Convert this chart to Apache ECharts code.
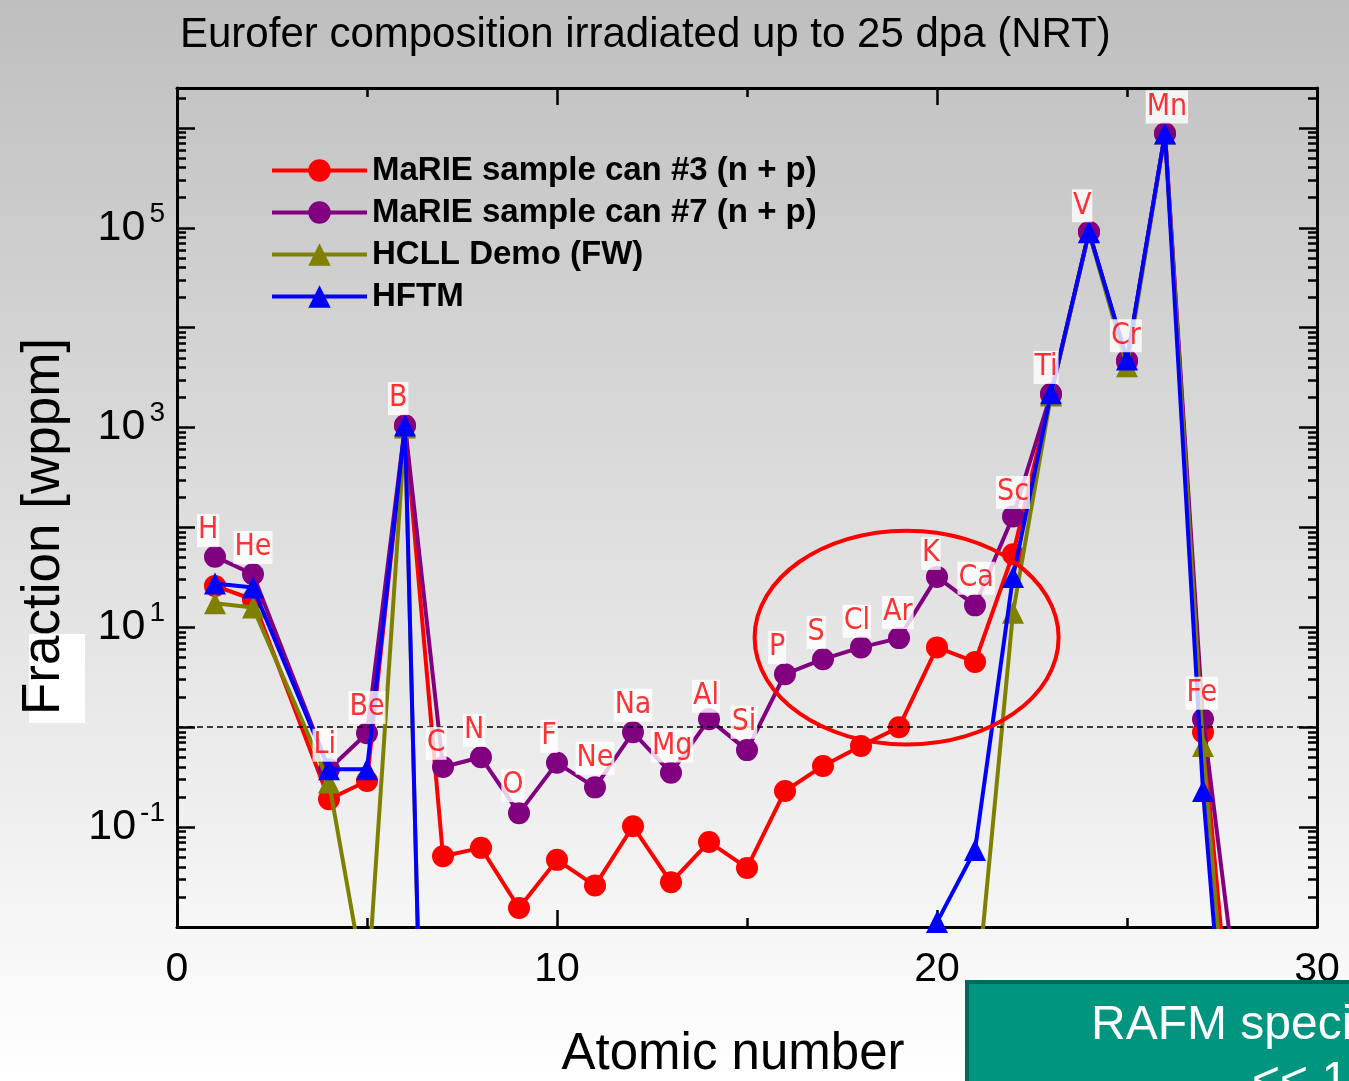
<!DOCTYPE html>
<html>
<head>
<meta charset="utf-8">
<script src="https://cdn.jsdelivr.net/npm/echarts@6/dist/echarts.min.js"></script>
<style>
  html, body { margin: 0; padding: 0; }
  #chart { width: 1349px; height: 1081px; }
</style>
</head>
<body>
<div id="chart"></div>
<script>
// x position of each point (atomic number axis)
const atomicX = [1, 2, 4, 5, 6, 7, 8, 9, 10, 11, 12, 13, 14, 15, 16, 17, 18, 19, 20, 21, 22, 23, 24, 25, 26, 27, 28];

// fractions in wppm
const marie3 = [26, 19, 0.19, 0.29, 1050, 0.051, 0.062, 0.0155, 0.047, 0.026, 0.102, 0.028, 0.071, 0.039,
  0.23, 0.41, 0.65, 1.0, 6.3, 4.5, 54, 2140, 91000, 4600, 880000, 0.89, 6e-5];
const marie7 = [51, 34, 0.38, 0.87, 1050, 0.40, 0.50, 0.138, 0.44, 0.25, 0.89, 0.35, 1.2, 0.59,
  3.4, 4.8, 6.3, 7.8, 32, 16.6, 129, 2180, 91000, 4700, 880000, 1.2, 1e-3];
const hcll = [17.4, 15.8, 0.28, 0.002, 1000, 1e-12, 1e-12, 1e-12, 1e-12, 1e-12, 1e-12, 1e-12, 1e-12, 1e-12,
  1e-12, 1e-12, 1e-12, 1e-12, 1e-12, 0.0014, 14, 2100, 90000, 4100, 880000, 0.65, 1.3e-5];
const hftm = [27.5, 25, 0.38, 0.38, 1050, 1e-12, 1e-12, 1e-12, 1e-12, 1e-12, 1e-12, 1e-12, 1e-12, 1e-12,
  1e-12, 1e-12, 1e-12, 1e-12, 0.0112, 0.059, 32, 2200, 91000, 4800, 880000, 0.23, 5e-6];

const seriesNames = ['MaRIE sample can #3 (n + p)', 'MaRIE sample can #7 (n + p)', 'HCLL Demo (FW)', 'HFTM'];

// element labels: name, x, y (where the label sits)
const elementNames = ['H', 'He', 'Li', 'Be', 'B', 'C', 'N', 'O', 'F', 'Ne', 'Na', 'Mg', 'Al', 'Si',
  'P', 'S', 'Cl', 'Ar', 'K', 'Ca', 'Sc', 'Ti', 'V', 'Cr', 'Mn', 'Fe'];
const elementLabelX = [0.82, 2.0, 3.89, 5.0, 5.82, 6.82, 7.82, 8.84, 9.79, 11.0, 12.0, 13.03, 13.92, 14.92,
  15.79, 16.82, 17.89, 18.97, 19.84, 21.03, 22.0, 22.87, 23.82, 24.97, 26.05, 26.97];
const elementLabelY = [93, 63, 0.66, 1.58, 1950, 0.69, 0.93, 0.26, 0.81, 0.49, 1.66, 0.65, 2.04, 1.12,
  6.3, 8.9, 11.5, 14.1, 55, 31, 224, 4000, 166000, 8300, 1.62e6, 2.19];

const yLabelValues = [0.1, 10, 1000, 100000];
const yMajorTicks = [0.01, 0.1, 1, 10, 100, 1000, 1e4, 1e5, 1e6];
const yMinorTicks = [];
yMajorTicks.forEach(d => { for (let k = 2; k <= 9; k++) { if (k * d < 2.5e6) yMinorTicks.push(+(k * d).toPrecision(3)); } });

const yMin = 0.01, yMax = 2.51e6;

const chart = echarts.init(document.getElementById('chart'));

const pair = arr => atomicX.map((x, i) => [x, arr[i]]);

function yAxisBase(pos, ticks, len, showLine, showLabel) {
  return {
    type: 'log', logBase: 10, min: yMin, max: yMax, position: pos,
    axisLine: { show: showLine, lineStyle: { color: '#000', width: 3 } },
    axisTick: { show: true, inside: true, length: len, customValues: ticks, lineStyle: { color: '#000', width: 2.5 } },
    axisLabel: showLabel ? {
      show: true, customValues: yLabelValues, margin: 12,
      formatter: v => '{b|10}{s|' + Math.round(Math.log10(v)) + '}',
      rich: {
        b: { fontSize: 43, fontFamily: 'Liberation Sans', color: '#000' },
        s: { fontSize: 28, fontFamily: 'Liberation Sans', color: '#000', padding: [0, 0, 28, 4] }
      }
    } : { show: false },
    splitLine: { show: false }
  };
}

const lineColors = ['#ff0000', '#800080', '#808000', '#0000ff'];
const symbols = ['circle', 'circle', 'triangle', 'triangle'];
const dataSets = [marie3, marie7, hcll, hftm];

const series = dataSets.map((d, i) => ({
  name: seriesNames[i],
  type: 'line',
  data: pair(d),
  symbol: symbols[i],
  symbolSize: 22,
  showAllSymbol: true,
  clip: true,
  lineStyle: { color: lineColors[i], width: 4 },
  itemStyle: { color: lineColors[i] },
  z: 2 + i
}));
series[0].markLine = {
  silent: true, symbol: 'none', label: { show: false },
  lineStyle: { type: [6, 4], color: '#000', width: 1.5 },
  data: [{ yAxis: 1 }]
};
series.push({
  type: 'scatter',
  data: elementNames.map((n, i) => ({ value: [elementLabelX[i], elementLabelY[i]], name: n })),
  symbolSize: 1,
  itemStyle: { color: 'rgba(0,0,0,0)' },
  z: 10,
  label: {
    show: true, position: 'inside', formatter: p => p.name,
    color: '#ff0000', fontSize: 30, fontWeight: 500,
    fontFamily: 'Liberation Sans Narrow, DejaVu Sans Condensed, sans-serif',
    backgroundColor: '#fff', padding: [3, 1, 0, 1]
  }
});

const option = {
  animation: false,
  backgroundColor: {
    type: 'linear', x: 0, y: 0, x2: 0, y2: 1,
    colorStops: [{ offset: 0, color: '#bfbfbf' }, { offset: 1, color: '#ffffff' }]
  },
  title: {
    text: 'Eurofer composition irradiated up to 25 dpa (NRT)',
    left: 175, top: 9,
    textStyle: { fontSize: 42, fontWeight: 'normal', color: '#000', fontFamily: 'Liberation Sans Narrow, Liberation Sans, sans-serif' }
  },
  legend: {
    orient: 'vertical', left: 265, top: 149,
    itemWidth: 95, itemHeight: 28, itemGap: 9,
    data: seriesNames,
    lineStyle: { width: 4 },
    textStyle: { fontSize: 33, fontWeight: 'bold', color: '#000', fontFamily: 'Liberation Sans' }
  },
  grid: { left: 177, right: 32, top: 88, bottom: 154, outerBoundsMode: 'none' },
  xAxis: [{
    type: 'value', min: 0, max: 30, interval: 10, position: 'bottom',
    name: 'Atomic number', nameLocation: 'middle', nameGap: 102,
    nameTextStyle: { fontSize: 51, color: '#000', fontFamily: 'Liberation Sans', padding: [0, 28, 0, 0] },
    axisLine: { lineStyle: { color: '#000', width: 3 } },
    axisTick: { inside: true, length: 17, lineStyle: { color: '#000', width: 2.5 } },
    minorTick: { show: true, splitNumber: 2, length: 9, lineStyle: { color: '#000', width: 2.5 } },
    axisLabel: { fontSize: 41, color: '#000', margin: 22, fontFamily: 'Liberation Sans' },
    splitLine: { show: false }
  }, {
    type: 'value', min: 0, max: 30, interval: 10, position: 'top',
    axisLine: { lineStyle: { color: '#000', width: 3 } },
    axisTick: { inside: true, length: 17, lineStyle: { color: '#000', width: 2.5 } },
    minorTick: { show: true, splitNumber: 2, length: 9, lineStyle: { color: '#000', width: 2.5 } },
    axisLabel: { show: false },
    splitLine: { show: false }
  }],
  yAxis: [
    yAxisBase('left', yMajorTicks, 18, true, true),
    yAxisBase('left', yMinorTicks, 9, false, false),
    yAxisBase('right', yMajorTicks, 18, true, false),
    yAxisBase('right', yMinorTicks, 9, false, false)
  ],
  graphic: [
    { type: 'rect', left: 29, top: 634, shape: { width: 56, height: 89 }, style: { fill: '#fff' }, z: 0 },
    {
      type: 'text', left: 18, top: 338, rotation: Math.PI / 2, z: 5,
      style: { text: 'Fraction [wppm]', fontSize: 53, fill: '#000', fontFamily: 'Liberation Sans' }
    },
    {
      type: 'rect', left: 965, top: 980, shape: { width: 420, height: 140 }, z: 20,
      style: { fill: '#00957f', stroke: '#006b5a', lineWidth: 4 }
    },
    {
      type: 'text', left: 1091, top: 1002, z: 21,
      style: { text: 'RAFM specifications', fontSize: 48, fill: '#fff', fontFamily: 'Liberation Sans' }
    },
    {
      type: 'text', left: 1252, top: 1058, z: 21,
      style: { text: '<< 10 wppm', fontSize: 48, fill: '#fff', fontFamily: 'Liberation Sans' }
    }
  ],
  series: series
};
chart.setOption(option);

// red ellipse around the P..Ca region, placed in data coordinates
const ellCenter = [19.2, 7.9];
const c = chart.convertToPixel({ xAxisIndex: 0, yAxisIndex: 0 }, ellCenter);
const ex = chart.convertToPixel({ xAxisIndex: 0, yAxisIndex: 0 }, [ellCenter[0] + 4, ellCenter[1]]);
const ey = chart.convertToPixel({ xAxisIndex: 0, yAxisIndex: 0 }, [ellCenter[0], ellCenter[1] * Math.pow(10, 1.07)]);
option.graphic.push({
  type: 'ellipse', z: 15,
  shape: { cx: c[0], cy: c[1], rx: ex[0] - c[0], ry: c[1] - ey[1] },
  style: { fill: 'none', stroke: '#ff0000', lineWidth: 4 }
});
chart.setOption({ graphic: option.graphic });
</script>
</body>
</html>
